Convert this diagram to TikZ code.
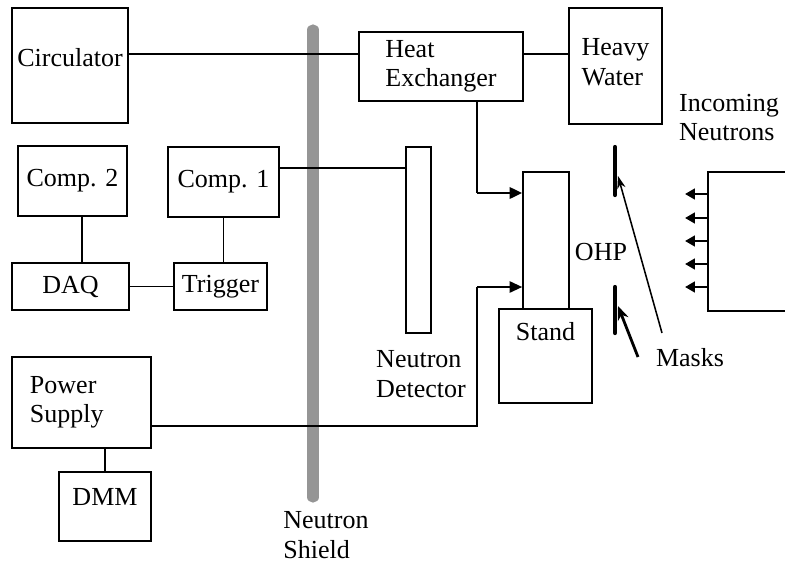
\documentclass[tikz,border=0pt]{standalone}
\usepackage{fontspec}
\setmainfont{Liberation Serif}
\usetikzlibrary{arrows.meta,positioning,calc}
\definecolor{shieldgray}{HTML}{959595}

\begin{document}
\begin{tikzpicture}[
    x=0.025cm, y=-0.025cm,
    >=Stealth,
    box/.style={rectangle, draw, line width=1.1pt, inner sep=0pt, font=\fontsize{18.5}{21}\selectfont, align=left},
    lbl/.style={inner sep=0pt, font=\fontsize{18.5}{21}\selectfont, align=left},
    wire/.style={line width=1.1pt},
    flow/.style={line width=2pt, -{Triangle[length=9pt,width=8pt]}},
    beam/.style={line width=1.8pt, -{Triangle[length=7pt,width=7.5pt]}},
    mask/.style={line width=3pt, line cap=round},
    shield/.style={line width=8pt, shieldgray, line cap=round},
]
\useasboundingbox (0,0) rectangle (785,568);

% Neutron shield
\draw[shield] (313,30) -- (313,497);
\node[lbl] (shlbl) at (326,535) {Neutron\\Shield};

% Cooling loop
\node[box, minimum width=2.9cm, minimum height=2.875cm, text depth=12pt] (circ) at (70,65.5) {Circulator};
\node[box, minimum width=4.1cm, minimum height=1.725cm] (hx) at (441,66.5) {Heat\\Exchanger};
\node[box, minimum width=2.325cm, minimum height=2.9cm, text depth=6pt] (hw) at (615.5,66) {Heavy\\Water};

% Data acquisition
\node[box, minimum width=2.725cm, minimum height=1.75cm] (c2) at (72.5,181) {Comp. 2};
\node[box, minimum width=2.775cm, minimum height=1.75cm] (c1) at (223.5,182) {Comp. 1};
\node[box, minimum width=2.925cm, minimum height=1.175cm] (daq) at (70.5,286.5) {DAQ};
\node[box, minimum width=2.325cm, minimum height=1.175cm] (trig) at (220.5,286.5) {Trigger};

% Detector
\node[box, minimum width=0.625cm, minimum height=4.65cm] (det) at (418.5,240) {};
\node[lbl] (detlbl) at (421,374) {Neutron\\Detector};

% Stand and OHP
\node[box, minimum width=1.15cm, minimum height=3.425cm] (col) at (546,240.5) {};
\node[box, minimum width=2.325cm, minimum height=2.35cm, text depth=35pt] (stand) at (545.5,356) {Stand};
\node[lbl] (ohp) at (601,252.5) {OHP};

% Power
\node[box, minimum width=3.475cm, minimum height=2.275cm, text width=2.575cm, inner xsep=0.45cm] (ps) at (81.5,402.5) {Power\\Supply};
\node[box, minimum width=2.3cm, minimum height=1.725cm, text depth=14pt] (dmm) at (105,506.5) {DMM};

% Tap points
\coordinate (pipe) at (0,54);
\coordinate (sig) at (0,168);
\coordinate (c2tap) at (82,0);
\coordinate (hxtap) at (477,193);
\coordinate (pstap) at (477,287);
\coordinate (psline) at (0,426);

% Connections
\draw[wire] (circ.east |- pipe) -- (hx.west |- pipe);
\draw[wire] (hx.east |- pipe) -- (hw.west |- pipe);
\draw[wire] (c1.east |- sig) -- (det.west |- sig);
\draw[wire] (c2tap |- c2.south) -- (c2tap |- daq.north);
\draw[wire] (c1.south) -- (c1.south |- trig.north);
\draw[wire] (daq) -- (trig);
\draw[wire] (dmm.north |- ps.south) -- (dmm.north);
\draw[wire] (hx.south -| hxtap) -- (hxtap);
\draw[flow] (hxtap) -- (col.west |- hxtap);
\draw[wire] (ps.east |- psline) -| (pstap);
\draw[flow, line width=1.5pt] (pstap) -- (col.west |- pstap);

% Masks
\draw[mask] (615,147) -- (615,195);
\draw[mask] (615,287) -- (615,333);
\node[lbl] (masks) at (690,358) {Masks};
\coordinate (mtop) at (618,176);
\coordinate (mbot) at (618,306);
\draw[wire, -{Stealth[length=9pt,width=6pt]}] (662,333) -- (mtop);
\draw[line width=2pt, -{Stealth[length=10pt,width=8pt]}] (638,357) -- (mbot);

% Incoming beam
\node[lbl] (inc) at (729,117.5) {Incoming\\Neutrons};
\coordinate (bt) at (708,172);
\coordinate (bb) at (708,311);
\draw[wire] (785,172) -- (bt) -- (bb) -- (785,311);
\foreach \y in {194,218,241,264,287}
    \draw[beam] (708,\y) -- (685,\y);

\end{tikzpicture}
\end{document}
